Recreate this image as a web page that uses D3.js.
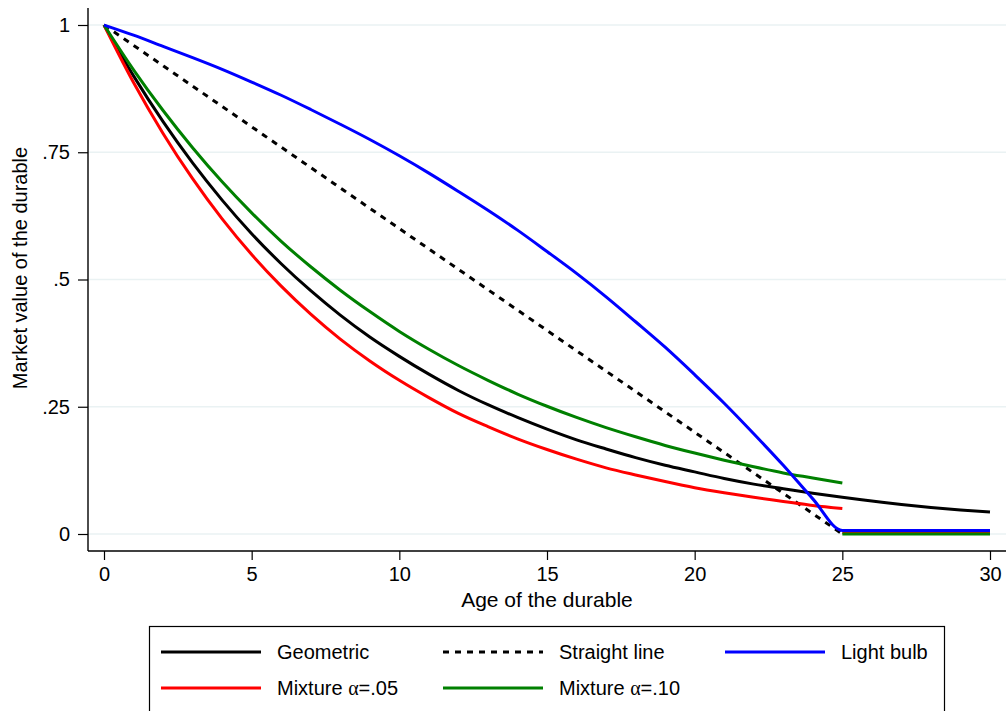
<!DOCTYPE html>
<html>
<head>
<meta charset="utf-8">
<script src="https://cdn.jsdelivr.net/npm/d3@7"></script>
<style>
  body { margin: 0; background: #fff; }
  svg { display: block; font-family: "Liberation Sans", Arial, Helvetica, sans-serif; }
  .tick text { font-size: 20px; fill: #000; }
</style>
</head>
<body>
<div id="chart"></div>
<script>
// Age of the durable, in years
var ages = [0, 1, 2, 3, 4, 5, 6, 7, 8, 9, 10, 11, 12, 13, 14, 15,
            16, 17, 18, 19, 20, 21, 22, 23, 24, 25, 26, 27, 28, 29, 30];

// Market value
var geometric = [1, 0.900, 0.810, 0.729, 0.656, 0.590, 0.531, 0.478, 0.430, 0.387, 0.349,
                 0.314, 0.282, 0.254, 0.229, 0.206, 0.185, 0.167, 0.150, 0.135, 0.122,
                 0.109, 0.098, 0.089, 0.080, 0.072, 0.065, 0.058, 0.052, 0.047, 0.043];
var straightLine = [1, 0.96, 0.92, 0.88, 0.84, 0.80, 0.76, 0.72, 0.68, 0.64, 0.60,
                    0.56, 0.52, 0.48, 0.44, 0.40, 0.36, 0.32, 0.28, 0.24, 0.20,
                    0.16, 0.12, 0.08, 0.04, 0];
var lightBulb = [1, 0.980, 0.958, 0.936, 0.913, 0.888, 0.862, 0.834, 0.805, 0.775, 0.743,
                 0.709, 0.673, 0.636, 0.597, 0.555, 0.512, 0.466, 0.417, 0.367, 0.313,
                 0.257, 0.197, 0.135, 0.069, 0.007, 0.007, 0.007, 0.007, 0.007, 0.007];
var mixture05 = [1, 0.887, 0.787, 0.698, 0.619, 0.549, 0.487, 0.432, 0.383, 0.340, 0.302,
                 0.268, 0.237, 0.211, 0.187, 0.166, 0.147, 0.130, 0.116, 0.103, 0.091,
                 0.081, 0.072, 0.064, 0.056, 0.050];
var mixture10 = [1, 0.912, 0.832, 0.759, 0.692, 0.631, 0.575, 0.525, 0.479, 0.437, 0.398,
                 0.363, 0.331, 0.302, 0.275, 0.251, 0.229, 0.209, 0.191, 0.174, 0.159,
                 0.145, 0.132, 0.120, 0.110, 0.100];
// after age 25 the mixtures sit at zero
var tailAges = [25, 30];
var mixture05Tail = [0.003, 0.003];
var mixture10Tail = [0, 0];

var xTicks = [0, 5, 10, 15, 20, 25, 30];
var yTicks = [0, 0.25, 0.5, 0.75, 1];
var yTickLabels = ['0', '.25', '.5', '.75', '1'];

var W = 1006, H = 711;
var plot = { left: 88, right: 1006, top: 8, bottom: 551 };

var svg = d3.select('#chart').append('svg')
    .attr('width', W)
    .attr('height', H);

var x = d3.scaleLinear().domain([0, 30]).range([104, 990]);
var y = d3.scaleLinear().domain([0, 1]).range([534, 25]);

// Grid lines
svg.append('g')
   .selectAll('line')
   .data(yTicks)
   .enter().append('line')
   .attr('x1', plot.left)
   .attr('x2', plot.right)
   .attr('y1', function(d) { return y(d); })
   .attr('y2', function(d) { return y(d); })
   .attr('stroke', '#eaf2f3')
   .attr('stroke-width', 1.6);

// Y axis
var yAxis = svg.append('g')
   .attr('transform', 'translate(' + plot.left + ',0)')
   .call(d3.axisLeft(y).tickValues(yTicks)
         .tickFormat(function(d, i) { return yTickLabels[i]; })
         .tickSize(10).tickPadding(8).tickSizeOuter(0));
yAxis.select('.domain').remove();
yAxis.selectAll('.tick line').attr('stroke', '#000').attr('stroke-width', 1.2);
svg.append('line')
   .attr('x1', plot.left).attr('x2', plot.left)
   .attr('y1', plot.top).attr('y2', plot.bottom)
   .attr('stroke', '#000').attr('stroke-width', 1.4);

// X axis
var xAxis = svg.append('g')
   .attr('transform', 'translate(0,' + plot.bottom + ')')
   .call(d3.axisBottom(x).tickValues(xTicks)
         .tickSize(9).tickPadding(7).tickSizeOuter(0));
xAxis.select('.domain').remove();
xAxis.selectAll('.tick line').attr('stroke', '#000').attr('stroke-width', 1.2);
svg.append('line')
   .attr('x1', plot.left).attr('x2', plot.right)
   .attr('y1', plot.bottom).attr('y2', plot.bottom)
   .attr('stroke', '#000').attr('stroke-width', 1.4);

// Axis titles
svg.append('text')
   .attr('x', 547)
   .attr('y', 607)
   .attr('text-anchor', 'middle')
   .style('font-size', '21px')
   .text('Age of the durable');

svg.append('text')
   .attr('transform', 'translate(27,268) rotate(-90)')
   .attr('text-anchor', 'middle')
   .style('font-size', '20px')
   .text('Market value of the durable');

// Lines
var line = d3.line()
   .x(function(d) { return x(d[0]); })
   .y(function(d) { return y(d[1]); })
   .curve(d3.curveMonotoneX);

function pairs(xs, ys) {
  return ys.map(function(v, i) { return [xs[i], v]; });
}

var series = [
  { name: 'Geometric', values: pairs(ages, geometric), color: '#000000', dash: null },
  { name: 'Straight line', values: pairs(ages, straightLine), color: '#000000', dash: '6,6' },
  { name: 'Mixture05', values: pairs(ages, mixture05), color: '#ff0000', dash: null },
  { name: 'Mixture05 tail', values: pairs(tailAges, mixture05Tail), color: '#ff0000', dash: null },
  { name: 'Mixture10', values: pairs(ages, mixture10), color: '#008000', dash: null },
  { name: 'Mixture10 tail', values: pairs(tailAges, mixture10Tail), color: '#008000', dash: null },
  { name: 'Light bulb', values: pairs(ages, lightBulb), color: '#0000ff', dash: null }
];

svg.append('g')
   .selectAll('path')
   .data(series)
   .enter().append('path')
   .attr('d', function(d) { return line(d.values); })
   .attr('fill', 'none')
   .attr('stroke', function(d) { return d.color; })
   .attr('stroke-width', 3)
   .attr('stroke-dasharray', function(d) { return d.dash; });

// Legend
var legendItems = [
  { label: 'Geometric', color: '#000000', dash: null, col: 0, row: 0 },
  { label: 'Straight line', color: '#000000', dash: '6,6', col: 1, row: 0 },
  { label: 'Light bulb', color: '#0000ff', dash: null, col: 2, row: 0 },
  { label: 'Mixture ', alpha: '.05', color: '#ff0000', dash: null, col: 0, row: 1 },
  { label: 'Mixture ', alpha: '.10', color: '#008000', dash: null, col: 1, row: 1 }
];

svg.append('rect')
   .attr('x', 149.5)
   .attr('y', 626.5)
   .attr('width', 795)
   .attr('height', 120)
   .attr('fill', '#fff')
   .attr('stroke', '#000')
   .attr('stroke-width', 1.2);

var legend = svg.append('g')
   .selectAll('g')
   .data(legendItems)
   .enter().append('g')
   .attr('transform', function(d) {
     return 'translate(' + (161 + d.col * 282) + ',' + (652 + d.row * 36) + ')';
   });

legend.append('line')
   .attr('x1', 0).attr('x2', 100)
   .attr('y1', 0).attr('y2', 0)
   .attr('stroke', function(d) { return d.color; })
   .attr('stroke-width', 3)
   .attr('stroke-dasharray', function(d) { return d.dash; });

var legendText = legend.append('text')
   .attr('x', 116)
   .attr('y', 7)
   .style('font-size', '20px');

legendText.append('tspan').text(function(d) { return d.label; });
legendText.filter(function(d) { return d.alpha; })
   .append('tspan')
   .style('font-family', '"Liberation Serif", "DejaVu Serif", serif')
   .text('\u03b1');
legendText.filter(function(d) { return d.alpha; })
   .append('tspan')
   .text(function(d) { return '=' + d.alpha; });
</script>
</body>
</html>
